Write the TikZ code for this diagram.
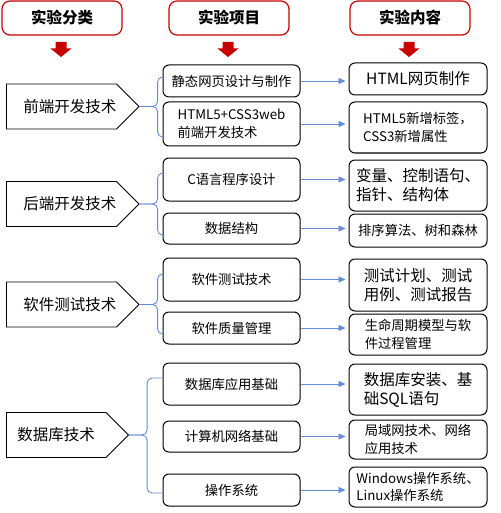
\documentclass[tikz,border=0pt]{standalone}
\usepackage{fontspec}
\setmainfont{Noto Sans CJK SC}
\usetikzlibrary{arrows.meta,shapes.symbols}
\definecolor{hred}{RGB}{200,0,0}
\definecolor{lblue}{RGB}{100,140,215}
\begin{document}
\begin{tikzpicture}[x=1pt,y=-1pt,
 head/.style={draw=hred, line width=1.2pt, rounded corners=8pt, fill=white, minimum width=120pt, minimum height=34pt, inner sep=0pt, font=\fontsize{15.5}{18}\selectfont\bfseries},
 cat/.style={signal, signal to=east, signal pointer angle=90, draw, line width=0.9pt, minimum width=122pt, minimum height=45pt, anchor=west, inner sep=0pt, font=\fontsize{15.5}{18}\selectfont},
 mid/.style={draw, line width=1pt, rounded corners=6pt, minimum width=137pt, inner sep=0pt, align=left, font=\fontsize{13.3}{17.5}\selectfont},
 res/.style={draw, line width=1pt, rounded corners=6pt, minimum width=138pt, inner sep=0pt, align=left},
 big/.style={font=\fontsize{15.5}{19}\selectfont},
 small/.style={font=\fontsize{13.3}{17.5}\selectfont},
 flow/.style={draw=lblue, line width=0.9pt, -{Triangle[length=7pt,width=6pt]}, shorten >=3pt},
 brace/.style={draw=lblue, line width=0.9pt, rounded corners=5pt},
 redarrow/.style={fill=hred, draw=none}
]
\useasboundingbox (0,0) rectangle (500,513);

% headers
\node[head] (h1) at (62,18) {实验分类};
\node[head] (h2) at (229,18) {实验项目};
\node[head] (h3) at (410,18) {实验内容};
\foreach \x in {61,228,409}{
  \fill[redarrow] (\x-5.5,42) -- (\x+5.5,42) -- (\x+5.5,48.5) -- (\x+10.5,48.5) -- (\x,57) -- (\x-10.5,48.5) -- (\x-5.5,48.5) -- cycle;
}

% categories
\node[cat] (c1) at (6,106.5) {\hspace*{17pt}前端开发技术};
\node[cat] (c2) at (6,204) {\hspace*{17pt}后端开发技术};
\node[cat] (c3) at (6,304.5) {\hspace*{17pt}软件测试技术};
\node[cat] (c4) at (6,435) {数据库技术};

% middle items
\node[mid, minimum height=32pt] (m1) at (231.5,81) {静态网页设计与制作};
\node[mid, minimum height=44pt] (m2) at (231.5,124) {HTML5+CSS3web\\前端开发技术};
\node[mid, minimum height=43pt] (m3) at (231.5,179.5) {C语言程序设计};
\node[mid, minimum height=31pt] (m4) at (231.5,228.5) {数据结构};
\node[mid, minimum height=43pt] (m5) at (231.5,279.5) {软件测试技术};
\node[mid, minimum height=32pt] (m6) at (231.5,328) {软件质量管理};
\node[mid, minimum height=42pt] (m7) at (231.5,384) {数据库应用基础};
\node[mid, minimum height=31pt] (m8) at (231.5,436.5) {计算机网络基础};
\node[mid, minimum height=32pt] (m9) at (231.5,490) {操作系统};

% results
\node[res, big, minimum height=32pt] (r1) at (418,79) {HTML网页制作};
\node[res, small, minimum height=51pt] (r2) at (418,127.5) {HTML5新增标签，\\CSS3新增属性};
\node[res, big, minimum height=51pt] (r3) at (418,185.5) {变量、控制语句、\\指针、结构体};
\node[res, small, minimum height=33pt] (r4) at (418,230.5) {排序算法、树和森林};
\node[res, big, minimum height=52pt] (r5) at (418,285) {测试计划、测试\\用例、测试报告};
\node[res, small, minimum height=41pt] (r6) at (418,334.5) {生命周期模型与软\\件过程管理};
\node[res, big, minimum height=51pt] (r7) at (418,389.5) {数据库安装、基\\础SQL语句};
\node[res, small, minimum height=39pt] (r8) at (418,439.5) {局域网技术、网络\\应用技术};
\node[res, small, minimum height=40pt] (r9) at (418,487) {Windows操作系统、\\Linux操作系统};

% flows
\foreach \i in {1,...,9}{
  \draw[flow] (m\i.east) -- (m\i.east -| r\i.west);
}

% braces
\draw[brace] (c1.east) -- ++(18,0) |- ([yshift=4pt]m1.west);
\draw[brace] (c1.east) -- ++(18,0) |- ([yshift=-13pt]m2.west);
\draw[brace] (c2.east) -- ++(18,0) |- ([yshift=6.5pt]m3.west);
\draw[brace] (c2.east) -- ++(18,0) |- ([yshift=-6.5pt]m4.west);
\draw[brace] (c3.east) -- ++(18,0) |- ([yshift=5.5pt]m5.west);
\draw[brace] (c3.east) -- ++(18,0) |- ([yshift=-6pt]m6.west);
\draw[brace] (c4.east) -- ++(18,0) |- ([yshift=6pt]m7.west);
\draw[brace] (c4.east) -- ++(18,0) |- ([yshift=-3pt]m9.west);
\end{tikzpicture}
\end{document}
